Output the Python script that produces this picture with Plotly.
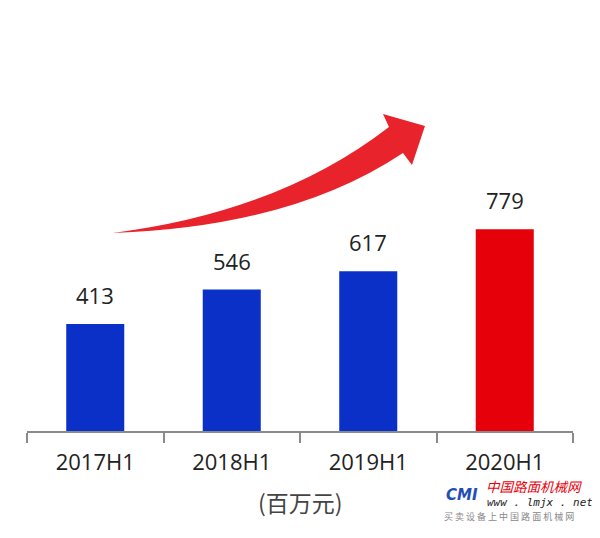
import plotly.graph_objects as go

categories = ["2017H1", "2018H1", "2019H1", "2020H1"]
values = [413, 546, 617, 779]
bar_colors = ["#0a30c8", "#0a30c8", "#0a30c8", "#e6000a"]
unit_label = "(百万元)"

W, H = 600, 538
OFF = 8  # page body margin offset
L, R, T, B = 27 - OFF, 27 + OFF, 20 - OFF, 107 + OFF
PW, PH = W - L - R, H - T - B

def px(x, y):
    # page pixel -> paper coords
    return (x - OFF - L) / PW, (H - B - (y - OFF)) / PH

def path_from(points_cmds):
    out = []
    for cmd, pts in points_cmds:
        s = cmd + " ".join("%.4f,%.4f" % px(*p) for p in pts)
        out.append(s)
    return " ".join(out) + " Z"

arrow_path = path_from([
    ("M", [(113, 233)]),
    ("Q", [(279, 212), (389, 127)]),
    ("L", [(383, 114)]),
    ("L", [(425, 126)]),
    ("L", [(412, 165)]),
    ("L", [(403, 153)]),
    ("Q", [(292, 227), (113, 233)]),
])

label_font = dict(family="Open Sans, Noto Sans, sans-serif", size=22, color="#222222")

fig = go.Figure()
fig.add_trace(go.Bar(
    x=categories, y=values,
    marker=dict(color=bar_colors, line=dict(width=0)),
    hoverinfo="x+y",
))

annotations = [
    dict(x=c, y=v, xref="x", yref="y", text=str(v), showarrow=False,
         xanchor="center", yanchor="bottom", yshift=12, font=label_font)
    for c, v in zip(categories, values)
]

def ann(text, x, y, xanchor, size, color, family):
    xp = px(x, 0)[0]
    yp = px(0, y)[1]
    return dict(text=text, xref="paper", yref="paper", x=xp, y=yp,
                xanchor=xanchor, yanchor="middle", showarrow=False,
                font=dict(family=family, size=size, color=color))

annotations += [
    ann(unit_label, 300, 502, "center", 23, "#444444", "Noto Sans CJK SC, sans-serif"),
    ann("<b><i>CMI</i></b>", 462, 495, "center", 15, "#1f4fb5", "DejaVu Sans, sans-serif"),
    ann("<i>中国路面机械网</i>", 484, 486, "left", 13.5, "#e8000b", "Noto Sans CJK SC, sans-serif"),
    ann("<i>www . lmjx . net</i>", 485, 502, "left", 11, "#222222", "DejaVu Sans Mono, monospace"),
    ann("买 卖 设 备 上 中 国 路 面 机 械 网", 442, 516, "left", 9, "#888888", "Noto Sans CJK SC, sans-serif"),
]

fig.update_layout(
    width=W, height=H,
    margin=dict(l=L, r=R, t=T, b=B),
    paper_bgcolor="white", plot_bgcolor="white",
    bargap=0.575, showlegend=False,
    xaxis=dict(
        type="category", showgrid=False, zeroline=False,
        showline=True, linecolor="#8a8a8a", linewidth=1.5,
        ticks="outside", tickson="boundaries", ticklen=10, tickcolor="#8a8a8a", tickwidth=1.5,
        tickfont=label_font,
        ticklabelstandoff=11,
        fixedrange=True,
    ),
    yaxis=dict(range=[0, 1587], visible=False, showgrid=False, zeroline=False, fixedrange=True),
    shapes=[dict(type="path", xref="paper", yref="paper", path=arrow_path,
                 fillcolor="#e8232b", line=dict(width=0), layer="above")],
    annotations=annotations,
)

fig.write_html("out.html")
